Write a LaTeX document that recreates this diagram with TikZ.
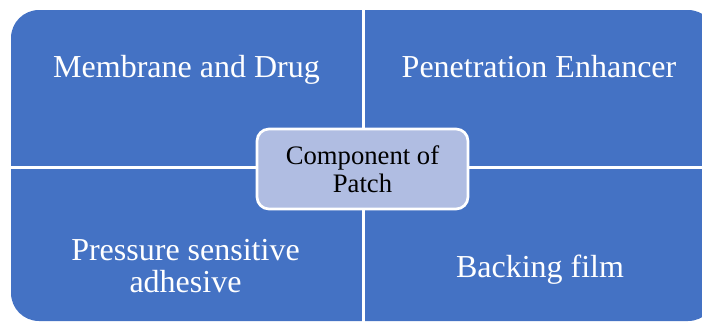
\documentclass[tikz,border=0pt]{standalone}
\usepackage{fontspec}
\setmainfont{Liberation Serif}
\definecolor{quadblue}{HTML}{4472C4}
\definecolor{centerfill}{HTML}{B0BDE2}
\begin{document}
\begin{tikzpicture}[x=0.75pt,y=-0.75pt,
  quadtext/.style={text=white,font=\fontsize{24}{24}\selectfont,align=center,anchor=base,inner sep=0pt},
  centerbox/.style={draw=white,line width=2pt,fill=centerfill,rounded corners=9pt,
    minimum width=211*0.75pt,minimum height=80*0.75pt,inner sep=0pt,
    font=\fontsize{20}{21}\selectfont,align=center,text=black},
  divider/.style={white,line width=2.3pt}]
  \useasboundingbox (0,0) rectangle (702,322);
  \clip (0,0) rectangle (702,322);
  % blue matrix body
  \fill[quadblue,rounded corners=21pt] (11,10) rectangle (716,321);
  % white gaps between the four quadrants
  \coordinate (vtop) at (363.5,0);
  \coordinate (vbot) at (363.5,322);
  \coordinate (hleft) at (0,167.5);
  \coordinate (hright) at (702,167.5);
  \draw[divider] (vtop) -- (vbot);
  \draw[divider] (hleft) -- (hright);
  % quadrant labels (base anchor of a two-line label sits on its last line)
  \node[quadtext] (membrane) at (186.5,77) {Membrane and Drug};
  \node[quadtext] (enhancer) at (539,77) {Penetration Enhancer};
  \node[quadtext] (adhesive) at (185.5,292) {Pressure sensitive\\adhesive};
  \node[quadtext] (backing) at (540,277) {Backing film};
  % central label
  \node[centerbox] (center) at (362.5,169) {Component of\\Patch};
\end{tikzpicture}
\end{document}
